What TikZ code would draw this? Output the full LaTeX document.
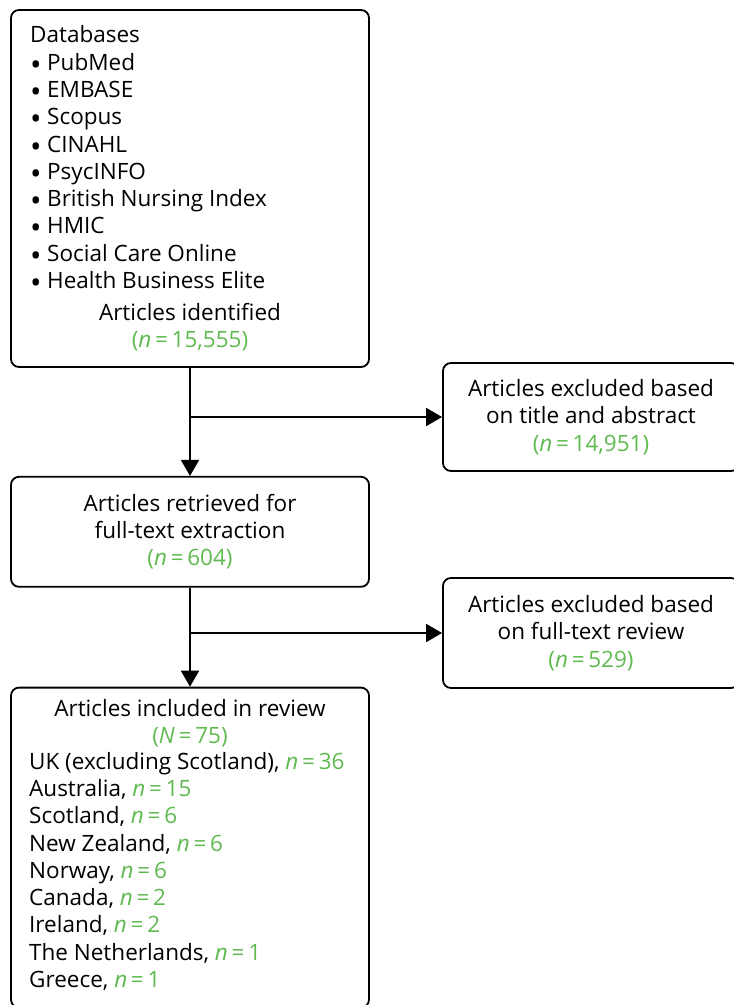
\documentclass[tikz,border=0pt]{standalone}
\usepackage{fontspec}
\usepackage{graphicx}
\setmainfont{Open Sans}
\usetikzlibrary{arrows.meta}
\usetikzlibrary{positioning,calc}
\definecolor{countgreen}{RGB}{95,186,80}
\newcommand{\cnt}[2]{\textcolor{countgreen}{\textit{#1}\,=\,#2}}
\newcommand{\itm}{\makebox[17pt][l]{\raisebox{-5pt}{\scalebox{1.35}{\textbullet}}}}

\begin{document}
\begin{tikzpicture}[x=1pt,y=-1pt,
  font=\fontsize{22.5}{27.3}\selectfont,
  box/.style={draw,line width=1.8pt,rounded corners=8pt,minimum width=358pt,inner sep=0pt},
  sidebox/.style={box,minimum width=296pt,align=center},
  flow/.style={line width=1.8pt,-{Triangle[length=16pt,width=18pt]}}]
  \useasboundingbox (0,0) rectangle (734,1005);
  \clip (0,0) rectangle (734,1005);

  % Boxes of the main column
  \node[box,minimum height=357pt]                      (db)   at (190,188.5) {};
  \node[box,minimum height=110pt,align=center,below=108pt of db]
        (retr) {Articles retrieved for\\full-text extraction\\\textcolor{countgreen}{(\cnt{n}{604})}};
  \node[box,minimum height=320pt,below=99pt of retr]   (incl) {};

  % Boxes of the excluded articles
  \node[sidebox,minimum height=108pt] (excl1) at (591,417)
        {Articles excluded based\\on title and abstract\\\textcolor{countgreen}{(\cnt{n}{14,951})}};
  \node[sidebox,minimum height=110pt] (excl2) at (591,633)
        {Articles excluded based\\on full-text review\\\textcolor{countgreen}{(\cnt{n}{529})}};

  % Texts in the first box (base = last line)
  \node[anchor=base west,align=left,inner sep=0pt] (dblist) at (30,288.5)
        {Databases\\\itm PubMed\\\itm EMBASE\\\itm Scopus\\\itm CINAHL\\
         \itm PsycINFO\\\itm British Nursing Index\\\itm HMIC\\
         \itm Social Care Online\\\itm Health Business Elite};
  \node[anchor=base,align=center,inner sep=0pt] (dbcount) at (190,347.5)
        {Articles identified\\\textcolor{countgreen}{(\cnt{n}{15,555})}};

  % Texts in the last box
  \node[anchor=base,align=center,inner sep=0pt] (inclcount) at (190,743.5)
        {Articles included in review\\\textcolor{countgreen}{(\cnt{N}{75})}};
  \node[anchor=base west,align=left,inner sep=0pt] (incllist) at (29,987.5)
        {UK (excluding Scotland), \cnt{n}{36}\\Australia, \cnt{n}{15}\\Scotland, \cnt{n}{6}\\
         New Zealand, \cnt{n}{6}\\Norway, \cnt{n}{6}\\Canada, \cnt{n}{2}\\Ireland, \cnt{n}{2}\\
         The Netherlands, \cnt{n}{1}\\Greece, \cnt{n}{1}};

  % Connectors
  \draw[flow] (db) -- (retr);
  \draw[flow] (db.south |- excl1.west) -- (excl1.west);
  \draw[flow] (retr) -- (incl);
  \draw[flow] (retr.south |- excl2.west) -- (excl2.west);
\end{tikzpicture}
\end{document}
